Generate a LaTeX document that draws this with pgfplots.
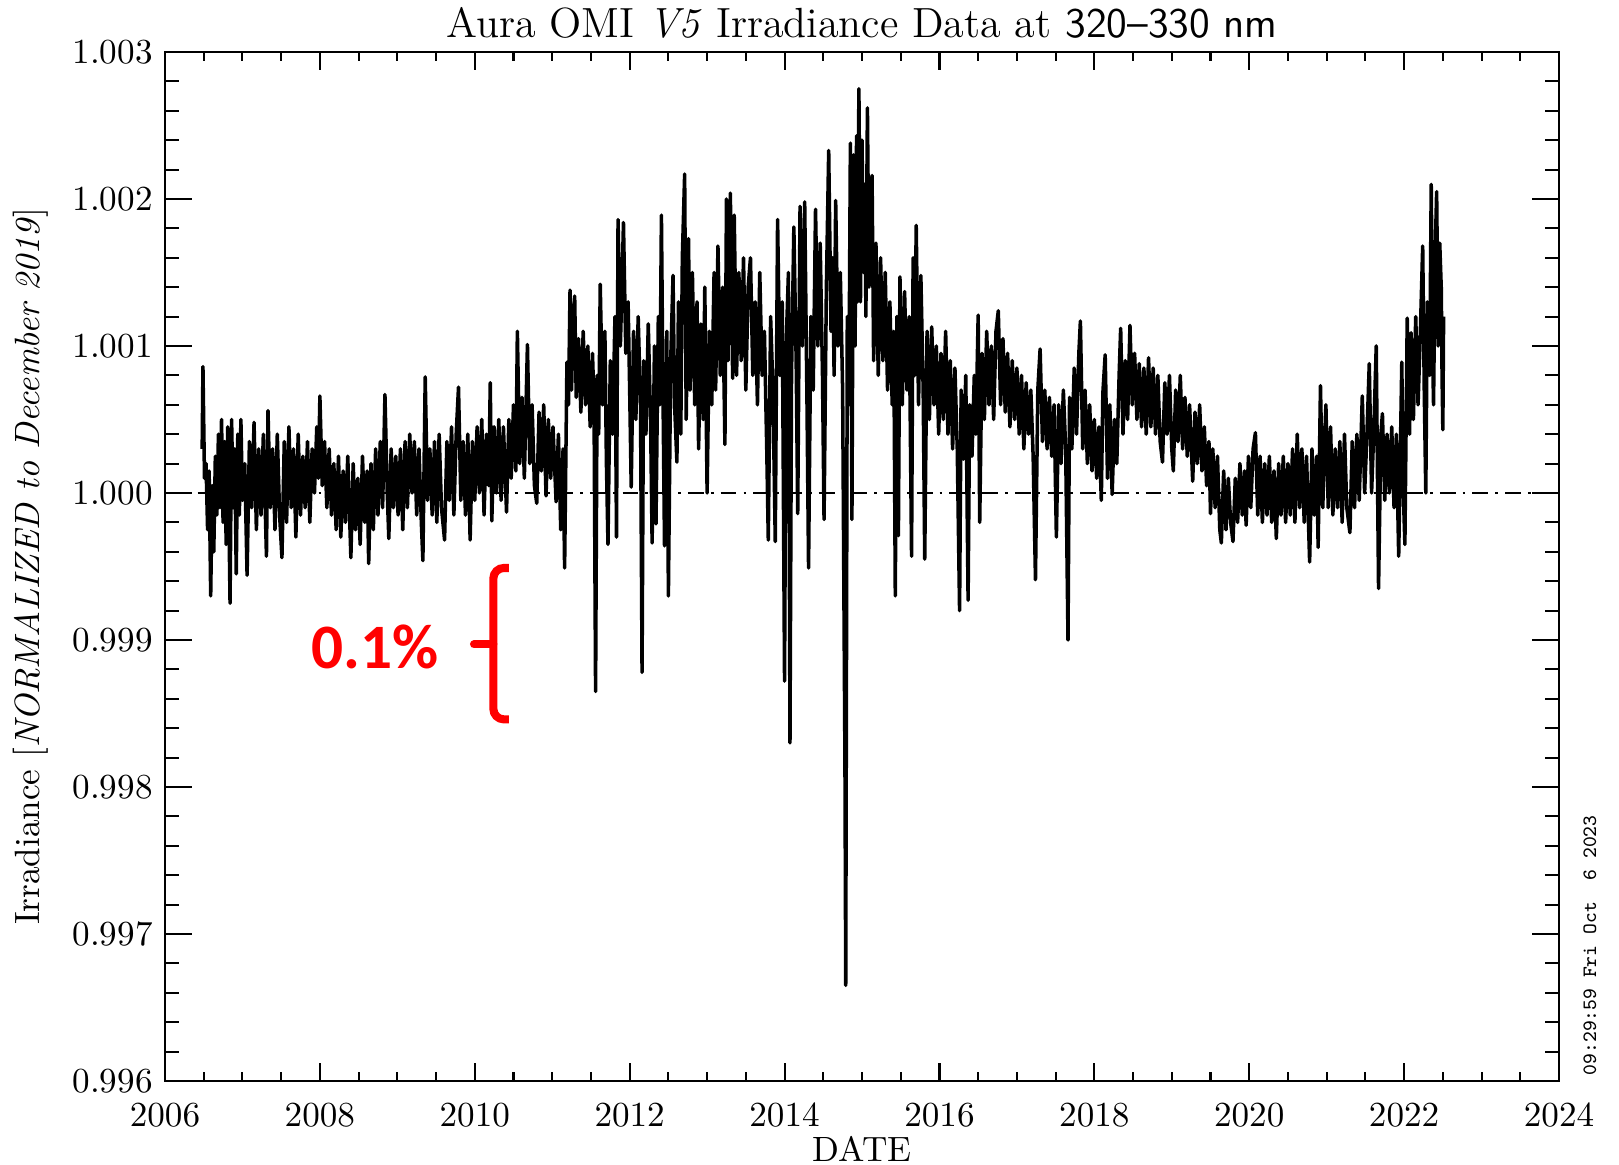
\documentclass[border=0pt]{standalone}
\usepackage{fontspec}
\usepackage{pgfplots}
\usepackage{pgfplotstable}
\pgfplotsset{compat=1.18}
\newfontfamily\calibri{Carlito}

% OMI irradiance, normalised to Dec 2019
\pgfplotstableread{
x y
2006.48 1.00030
2006.49 1.00086
2006.51 1.00010
2006.53 1.00020
2006.55 0.99975
2006.57 1.00015
2006.59 0.99930
2006.61 1.00005
2006.63 0.99960
2006.65 1.00025
2006.67 0.99985
2006.69 1.00040
2006.71 0.99990
2006.73 1.00050
2006.75 0.99980
2006.77 1.00035
2006.79 0.99965
2006.81 1.00045
2006.84 0.99925
2006.86 1.00050
2006.88 0.99990
2006.90 1.00030
2006.92 0.99945
2006.94 1.00040
2006.96 0.99985
2006.98 1.00050
2007.00 0.99995
2007.03 1.00020
2007.06 0.99944
2007.09 1.00035
2007.12 0.99990
2007.15 1.00048
2007.18 0.99975
2007.21 1.00030
2007.24 0.99985
2007.27 1.00040
2007.31 0.99957
2007.33 1.00056
2007.36 0.99990
2007.39 1.00030
2007.42 0.99975
2007.45 1.00040
2007.48 0.99985
2007.51 0.99956
2007.54 1.00035
2007.57 0.99980
2007.60 1.00045
2007.63 0.99990
2007.66 1.00030
2007.69 0.99970
2007.72 1.00040
2007.75 0.99985
2007.78 1.00025
2007.81 0.99990
2007.84 1.00035
2007.87 0.99980
2007.90 1.00030
2007.93 1.00000
2007.96 1.00045
2007.98 1.00010
2008.00 1.00066
2008.03 1.00005
2008.06 1.00035
2008.09 0.99990
2008.12 1.00030
2008.15 0.99985
2008.18 1.00020
2008.21 0.99975
2008.24 1.00025
2008.27 0.99970
2008.30 1.00015
2008.33 0.99980
2008.36 1.00025
2008.40 0.99956
2008.43 1.00020
2008.46 0.99975
2008.49 1.00010
2008.52 0.99965
2008.55 1.00025
2008.58 0.99980
2008.61 1.00015
2008.63 0.99952
2008.66 1.00020
2008.69 0.99975
2008.72 1.00030
2008.75 0.99985
2008.78 1.00035
2008.81 0.99990
2008.84 1.00067
2008.87 1.00000
2008.89 0.99969
2008.92 1.00030
2008.95 0.99990
2008.98 1.00025
2009.01 0.99985
2009.04 1.00030
2009.07 0.99975
2009.10 1.00035
2009.13 0.99990
2009.16 1.00040
2009.19 1.00000
2009.22 1.00035
2009.25 0.99985
2009.28 1.00030
2009.31 0.99980
2009.33 0.99954
2009.36 1.00079
2009.39 0.99995
2009.42 1.00030
2009.45 0.99985
2009.48 1.00035
2009.51 0.99980
2009.54 1.00040
2009.57 0.99990
2009.61 0.99968
2009.64 1.00035
2009.67 0.99995
2009.70 1.00045
2009.73 0.99985
2009.76 1.00040
2009.79 1.00072
2009.82 0.99995
2009.85 1.00035
2009.88 0.99985
2009.91 1.00040
2009.94 0.99968
2009.97 1.00035
2010.00 0.99995
2010.03 1.00045
2010.06 1.00000
2010.09 1.00050
2010.12 0.99985
2010.15 1.00040
2010.18 1.00005
2010.20 1.00075
2010.22 0.99981
2010.25 1.00045
2010.28 1.00000
2010.31 1.00050
2010.34 0.99995
2010.37 1.00045
2010.41 0.99987
2010.44 1.00050
2010.47 1.00010
2010.50 1.00060
2010.53 1.00015
2010.55 1.00110
2010.58 1.00020
2010.61 1.00065
2010.64 1.00010
2010.68 1.00101
2010.71 1.00020
2010.74 1.00060
2010.77 1.00005
2010.80 0.99993
2010.83 1.00055
2010.86 1.00015
2010.89 1.00060
2010.92 0.99998
2010.95 1.00050
2010.98 1.00010
2011.01 1.00045
2011.05 0.99994
2011.08 1.00040
2011.11 0.99975
2011.14 1.00030
2011.16 0.99949
2011.19 1.00089
2011.21 1.00060
2011.23 1.00138
2011.25 1.00070
2011.27 1.00120
2011.29 1.00134
2011.31 1.00065
2011.34 1.00105
2011.37 1.00055
2011.40 1.00110
2011.43 1.00060
2011.46 1.00100
2011.49 1.00045
2011.52 1.00095
2011.54 1.00060
2011.56 0.99865
2011.58 1.00080
2011.60 1.00040
2011.62 1.00142
2011.65 1.00060
2011.68 1.00110
2011.70 1.00020
2011.72 0.99965
2011.75 1.00090
2011.78 1.00040
2011.81 1.00120
2011.83 0.99970
2011.85 1.00186
2011.88 1.00100
2011.90 1.00140
2011.92 1.00184
2011.95 1.00095
2011.98 1.00130
2012.00 1.00070
2012.02 1.00004
2012.05 1.00110
2012.08 1.00050
2012.11 1.00120
2012.14 1.00060
2012.16 0.99878
2012.18 1.00090
2012.21 1.00040
2012.24 1.00115
2012.27 1.00050
2012.29 0.99966
2012.32 1.00100
2012.34 0.99979
2012.37 1.00120
2012.39 1.00060
2012.41 1.00189
2012.43 1.00070
2012.45 0.99964
2012.48 1.00110
2012.50 0.99930
2012.53 1.00090
2012.56 1.00148
2012.58 1.00060
2012.61 1.00021
2012.63 1.00130
2012.66 1.00040
2012.68 1.00160
2012.71 1.00217
2012.73 1.00050
2012.76 1.00173
2012.78 1.00070
2012.81 1.00150
2012.84 1.00060
2012.87 1.00130
2012.89 1.00030
2012.92 1.00115
2012.95 1.00050
2012.97 1.00140
2013.00 1.00000
2013.03 1.00110
2013.06 1.00060
2013.09 1.00150
2013.11 1.00070
2013.14 1.00168
2013.17 1.00080
2013.20 1.00140
2013.23 1.00033
2013.25 1.00200
2013.27 1.00090
2013.30 1.00204
2013.33 1.00078
2013.35 1.00189
2013.38 1.00080
2013.41 1.00150
2013.44 1.00090
2013.47 1.00160
2013.50 1.00070
2013.53 1.00140
2013.56 1.00160
2013.59 1.00080
2013.62 1.00130
2013.65 1.00060
2013.68 1.00150
2013.71 1.00080
2013.74 1.00110
2013.77 1.00030
2013.79 0.99968
2013.82 1.00120
2013.85 1.00070
2013.88 0.99967
2013.91 1.00186
2013.94 1.00080
2013.97 1.00130
2014.00 0.99872
2014.02 1.00100
2014.05 1.00150
2014.07 0.99830
2014.09 1.00080
2014.12 1.00181
2014.15 1.00090
2014.17 0.99986
2014.20 1.00195
2014.23 1.00100
2014.26 1.00198
2014.29 1.00060
2014.31 0.99949
2014.34 1.00120
2014.37 1.00070
2014.40 1.00193
2014.43 1.00100
2014.46 1.00170
2014.49 1.00080
2014.51 0.99982
2014.54 1.00140
2014.57 1.00233
2014.60 1.00110
2014.62 1.00160
2014.64 1.00080
2014.66 1.00199
2014.69 1.00100
2014.72 1.00150
2014.75 1.00070
2014.78 0.99815
2014.79 0.99665
2014.81 1.00120
2014.83 1.00060
2014.85 1.00238
2014.87 0.99982
2014.89 1.00230
2014.91 1.00100
2014.93 1.00243
2014.94 1.00130
2014.96 1.00275
2014.98 1.00130
2015.00 1.00240
2015.02 1.00150
2015.04 1.00210
2015.05 1.00120
2015.07 1.00262
2015.09 1.00140
2015.11 1.00200
2015.13 1.00216
2015.15 1.00090
2015.18 1.00170
2015.21 1.00080
2015.24 1.00160
2015.27 1.00090
2015.30 1.00150
2015.33 1.00070
2015.36 1.00130
2015.39 1.00060
2015.41 1.00110
2015.43 0.99930
2015.45 1.00120
2015.47 0.99971
2015.49 1.00147
2015.52 1.00060
2015.55 1.00137
2015.58 1.00070
2015.61 1.00120
2015.64 0.99957
2015.66 1.00160
2015.68 1.00080
2015.70 1.00182
2015.73 1.00060
2015.76 1.00148
2015.79 1.00070
2015.81 0.99955
2015.84 1.00110
2015.87 1.00050
2015.90 1.00113
2015.93 1.00060
2015.96 1.00100
2015.99 1.00040
2016.02 1.00095
2016.05 1.00050
2016.08 1.00110
2016.11 1.00040
2016.14 1.00090
2016.17 1.00030
2016.20 1.00085
2016.23 1.00030
2016.26 0.99920
2016.28 1.00070
2016.31 1.00023
2016.34 1.00080
2016.37 0.99927
2016.39 1.00060
2016.42 1.00025
2016.45 1.00080
2016.47 1.00040
2016.50 1.00121
2016.52 0.99980
2016.55 1.00095
2016.58 1.00050
2016.61 1.00110
2016.64 1.00060
2016.67 1.00100
2016.70 1.00050
2016.73 1.00110
2016.76 1.00124
2016.79 1.00060
2016.82 1.00105
2016.85 1.00055
2016.88 1.00095
2016.91 1.00045
2016.94 1.00090
2016.97 1.00050
2017.00 1.00085
2017.03 1.00040
2017.06 1.00080
2017.09 1.00030
2017.12 1.00075
2017.15 1.00040
2017.18 1.00070
2017.21 1.00025
2017.24 0.99941
2017.27 1.00070
2017.30 1.00098
2017.33 1.00035
2017.36 1.00070
2017.39 1.00030
2017.42 1.00065
2017.45 1.00025
2017.48 1.00060
2017.51 0.99970
2017.54 1.00060
2017.57 1.00020
2017.60 1.00070
2017.63 1.00030
2017.66 0.99900
2017.68 1.00065
2017.71 1.00030
2017.74 1.00085
2017.77 1.00040
2017.80 1.00095
2017.82 1.00117
2017.85 1.00030
2017.88 1.00070
2017.91 1.00020
2017.94 1.00060
2017.97 1.00015
2018.00 1.00050
2018.03 1.00010
2018.06 1.00045
2018.09 0.99995
2018.11 1.00068
2018.14 1.00094
2018.17 1.00010
2018.20 1.00060
2018.23 0.99999
2018.26 1.00050
2018.29 1.00020
2018.32 1.00080
2018.34 1.00112
2018.37 1.00040
2018.40 1.00090
2018.43 1.00050
2018.46 1.00114
2018.49 1.00060
2018.52 1.00095
2018.55 1.00050
2018.58 1.00088
2018.61 1.00045
2018.64 1.00085
2018.67 1.00040
2018.70 1.00092
2018.73 1.00045
2018.76 1.00085
2018.79 1.00040
2018.82 1.00080
2018.85 1.00035
2018.88 1.00021
2018.91 1.00075
2018.94 1.00040
2018.97 1.00080
2019.00 1.00030
2019.02 1.00015
2019.05 1.00070
2019.08 1.00035
2019.11 1.00080
2019.14 1.00030
2019.17 1.00065
2019.20 1.00025
2019.23 1.00060
2019.27 1.00008
2019.30 1.00055
2019.33 1.00020
2019.36 1.00060
2019.39 1.00015
2019.42 1.00045
2019.45 1.00005
2019.48 1.00035
2019.50 0.99986
2019.53 1.00030
2019.56 0.99990
2019.59 1.00025
2019.62 0.99975
2019.64 0.99966
2019.67 1.00015
2019.70 0.99975
2019.73 1.00010
2019.76 0.99980
2019.79 0.99967
2019.82 1.00010
2019.85 0.99980
2019.88 1.00020
2019.91 0.99985
2019.94 1.00015
2019.96 0.99978
2019.99 1.00025
2020.02 0.99990
2020.05 1.00030
2020.08 1.00041
2020.11 0.99985
2020.14 1.00025
2020.17 0.99980
2020.20 1.00020
2020.23 0.99985
2020.26 1.00025
2020.29 0.99980
2020.32 1.00015
2020.35 0.99969
2020.38 1.00020
2020.41 0.99985
2020.44 1.00025
2020.47 0.99980
2020.50 1.00020
2020.53 0.99985
2020.56 1.00030
2020.59 0.99980
2020.62 1.00040
2020.65 0.99990
2020.68 1.00030
2020.71 0.99980
2020.74 1.00025
2020.78 0.99953
2020.81 1.00030
2020.84 0.99985
2020.87 1.00025
2020.89 0.99963
2020.92 1.00073
2020.95 0.99990
2020.97 1.00030
2020.99 1.00060
2021.02 0.99990
2021.05 1.00045
2021.08 0.99985
2021.11 1.00030
2021.14 0.99990
2021.17 1.00035
2021.20 0.99980
2021.23 1.00040
2021.26 0.99990
2021.30 0.99973
2021.33 1.00035
2021.36 0.99990
2021.39 1.00040
2021.42 0.99995
2021.46 1.00066
2021.49 1.00000
2021.52 1.00040
2021.55 1.00088
2021.58 1.00000
2021.61 1.00045
2021.64 1.00100
2021.67 0.99935
2021.70 1.00040
2021.72 1.00054
2021.75 0.99995
2021.78 1.00040
2021.81 1.00000
2021.84 1.00045
2021.87 0.99990
2021.90 1.00040
2021.93 0.99957
2021.97 1.00089
2021.99 1.00000
2022.01 0.99965
2022.04 1.00119
2022.07 1.00040
2022.09 1.00109
2022.12 1.00050
2022.15 1.00120
2022.18 1.00060
2022.21 1.00110
2022.24 1.00168
2022.26 1.00070
2022.28 1.00000
2022.30 1.00130
2022.33 1.00080
2022.35 1.00210
2022.37 1.00090
2022.38 1.00060
2022.40 1.00160
2022.42 1.00205
2022.44 1.00100
2022.46 1.00170
2022.48 1.00139
2022.49 1.00080
2022.50 1.00043
2022.51 1.00120
}\irrad

\begin{document}
\begin{tikzpicture}
\begin{axis}[
    scale only axis,
    width=13.94cm, height=10.29cm,
    xmin=2006, xmax=2024,
    ymin=0.996, ymax=1.003,
    xtick={2006,2008,...,2024},
    minor x tick num=3,
    ytick={0.996,0.997,0.998,0.999,1.000,1.001,1.002,1.003},
    yticklabels={0.996,0.997,0.998,0.999,1.000,1.001,1.002,1.003},
    minor y tick num=4,
    /pgf/number format/1000 sep={},
    tick align=inside,
    tick pos=both,
    axis line style={black, line width=0.6pt},
    every tick/.style={black, line width=0.6pt},
    xtick style={/pgfplots/major tick length=1.8mm, /pgfplots/minor tick length=0.9mm},
    ytick style={/pgfplots/major tick length=2.7mm, /pgfplots/minor tick length=1.4mm},
    tick label style={font=\fontsize{10}{12}\selectfont},
    xticklabel style={yshift=-1mm},
    title={Aura OMI \textit{V5} Irradiance Data at \textsf{320--330 nm}},
    every axis title/.style={at={(axis description cs:0.5,1.0282)}, anchor=center, font=\fontsize{12}{14}\selectfont},
    xlabel={DATE},
    xlabel style={at={(axis description cs:0.5,-0.0661)}, anchor=center, font=\fontsize{10}{12}\selectfont},
    ylabel={Irradiance [\textit{NORMALIZED to December 2019}]},
    ylabel style={at={(axis description cs:-0.0961,0.5)}, anchor=center, font=\fontsize{10}{12}\selectfont},
]
\coordinate (sw) at (rel axis cs:0,0);
\coordinate (ne) at (rel axis cs:1,1);

% reference level
\addplot[black, line width=0.5pt, dash pattern=on 4.5pt off 2pt on 0.8pt off 2pt]
    coordinates {(2006,1.0) (2024,1.0)};

\addplot[black, line width=1pt, line join=round] table[x=x, y=y] {\irrad};

% 0.1% scale bracket
\draw[red, line width=2.3pt, rounded corners=3pt]
    (axis cs:2010.44,0.99949) -- (axis cs:2010.24,0.99949)
    -- (axis cs:2010.24,0.99846) -- (axis cs:2010.44,0.99846);
\draw[red, line width=2.3pt, line cap=round]
    (axis cs:2010.24,0.99897) -- (axis cs:2009.99,0.99897);
\node[red, font=\calibri\bfseries\fontsize{18}{20}\selectfont]
    at (axis cs:2008.71,0.99895) {0.1\%};
\end{axis}

\node[rotate=90, anchor=west, inner sep=0pt, font=\ttfamily\fontsize{5.8}{7}\selectfont]
    at ([xshift=0.31cm,yshift=0.05cm]sw -| ne) {09:29:59 Fri Oct\ \ 6 2023};

\pgfresetboundingbox
\path[use as bounding box] ([xshift=-1.65cm,yshift=-0.84cm]sw) rectangle ([xshift=0.60cm,yshift=0.52cm]ne);
\end{tikzpicture}
\end{document}
